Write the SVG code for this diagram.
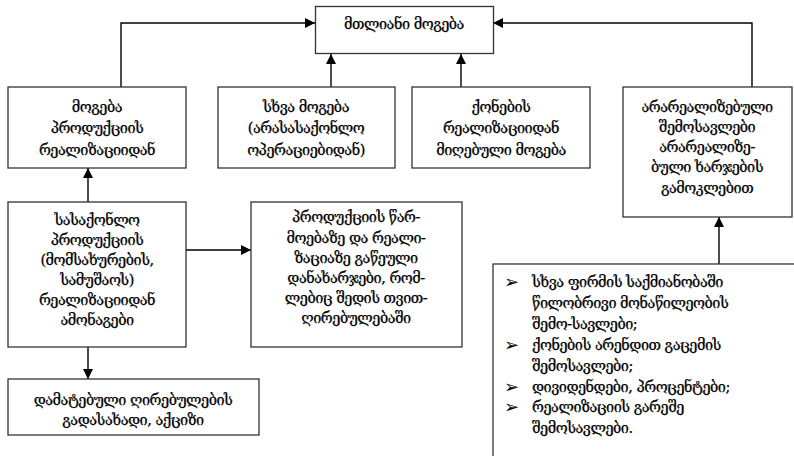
<svg xmlns="http://www.w3.org/2000/svg" width="794" height="456" viewBox="0 0 794 456">
  <style>
    .box { fill: #ffffff; stroke: #333333; stroke-width: 1.3; }
    .lbl, .lst { font-family: "DejaVu Serif", "DejaVu Sans", serif; font-size: 14.5px; letter-spacing: -0.5px; fill: #000000; stroke: #000000; stroke-width: 0.25; }
    .lbl { text-anchor: middle; }
    .blt { font-family: "DejaVu Sans", sans-serif; font-size: 18px; fill: #000000; }
    .wire { fill: none; stroke: #000000; stroke-width: 1.4; }
  </style>
  <defs>
    <marker id="arrow" viewBox="0 0 10 10" refX="10" refY="5" markerWidth="10" markerHeight="10" markerUnits="userSpaceOnUse" orient="auto">
      <path d="M0,0 L10,5 L0,10 Z" fill="#000000"/>
    </marker>
  </defs>
  <rect width="794" height="456" fill="#ffffff"/>

  <g id="connectors">
    <path class="wire" d="M121,87 V23 H315" marker-end="url(#arrow)"/>
    <path class="wire" d="M752,87 V23 H493" marker-end="url(#arrow)"/>
    <path class="wire" d="M331,87 V54" marker-end="url(#arrow)"/>
    <path class="wire" d="M461,87 V54" marker-end="url(#arrow)"/>
    <path class="wire" d="M88,202 V168" marker-end="url(#arrow)"/>
    <path class="wire" d="M186,250 H251" marker-end="url(#arrow)"/>
    <path class="wire" d="M88,347 V379" marker-end="url(#arrow)"/>
    <path class="wire" d="M719,264 V217" marker-end="url(#arrow)"/>
  </g>

  <g id="total-profit">
    <rect class="box" x="315.5" y="6.5" width="178" height="47"/>
    <text class="lbl" x="404" y="29">მთლიანი მოგება</text>
  </g>

  <g id="sales-profit">
    <rect class="box" x="8" y="87" width="178" height="81"/>
    <text class="lbl" x="97" y="112">მოგება</text>
    <text class="lbl" x="97" y="133">პროდუქციის</text>
    <text class="lbl" x="97" y="155">რეალიზაციიდან</text>
  </g>

  <g id="other-profit">
    <rect class="box" x="218" y="87" width="177" height="81"/>
    <text class="lbl" x="306" y="112">სხვა მოგება</text>
    <text class="lbl" x="306" y="133">(არასასაქონლო</text>
    <text class="lbl" x="306" y="155">ოპერაციებიდან)</text>
  </g>

  <g id="asset-profit">
    <rect class="box" x="412" y="87" width="178" height="81"/>
    <text class="lbl" x="501" y="112">ქონების</text>
    <text class="lbl" x="501" y="133">რეალიზაციიდან</text>
    <text class="lbl" x="501" y="155">მიღებული მოგება</text>
  </g>

  <g id="non-sales-income">
    <rect class="box" x="623" y="87" width="169" height="130"/>
    <text class="lbl" x="707" y="112">არარეალიზებული</text>
    <text class="lbl" x="707" y="132">შემოსავლები</text>
    <text class="lbl" x="707" y="152">არარეალიზე-</text>
    <text class="lbl" x="707" y="172">ბული ხარჯების</text>
    <text class="lbl" x="707" y="193">გამოკლებით</text>
  </g>

  <g id="sales-revenue">
    <rect class="box" x="8" y="202" width="178" height="145"/>
    <text class="lbl" x="97" y="225">სასაქონლო</text>
    <text class="lbl" x="97" y="245">პროდუქციის</text>
    <text class="lbl" x="97" y="265">(მომსახურების,</text>
    <text class="lbl" x="97" y="285">სამუშაოს)</text>
    <text class="lbl" x="97" y="305">რეალიზაციიდან</text>
    <text class="lbl" x="97" y="325">ამონაგები</text>
  </g>

  <g id="production-costs">
    <rect class="box" x="251" y="202" width="211" height="145"/>
    <text class="lbl" x="356" y="222">პროდუქციის წარ-</text>
    <text class="lbl" x="356" y="243">მოებაზე და რეალი-</text>
    <text class="lbl" x="356" y="263">ზაციაზე გაწეული</text>
    <text class="lbl" x="356" y="283">დანახარჯები, რომ-</text>
    <text class="lbl" x="356" y="303">ლებიც შედის თვით-</text>
    <text class="lbl" x="356" y="323">ღირებულებაში</text>
  </g>

  <g id="vat-excise">
    <rect class="box" x="8" y="379" width="251" height="56"/>
    <text class="lbl" x="133" y="405">დამატებული ღირებულების</text>
    <text class="lbl" x="133" y="425">გადასახადი, აქციზი</text>
  </g>

  <g id="income-sources">
    <rect class="box" x="493" y="264" width="310" height="210"/>
    <text class="blt" x="504" y="288">➢</text>
    <text class="lst" x="532" y="287">სხვა ფირმის საქმიანობაში</text>
    <text class="lst" x="532" y="308">წილობრივი მონაწილეობის</text>
    <text class="lst" x="532" y="329">შემო-სავლები;</text>
    <text class="blt" x="504" y="351">➢</text>
    <text class="lst" x="532" y="350">ქონების არენდით გაცემის</text>
    <text class="lst" x="532" y="371">შემოსავლები;</text>
    <text class="blt" x="504" y="393">➢</text>
    <text class="lst" x="532" y="392">დივიდენდები, პროცენტები;</text>
    <text class="blt" x="504" y="413">➢</text>
    <text class="lst" x="532" y="412">რეალიზაციის გარეშე</text>
    <text class="lst" x="532" y="433">შემოსავლები.</text>
  </g>
</svg>
